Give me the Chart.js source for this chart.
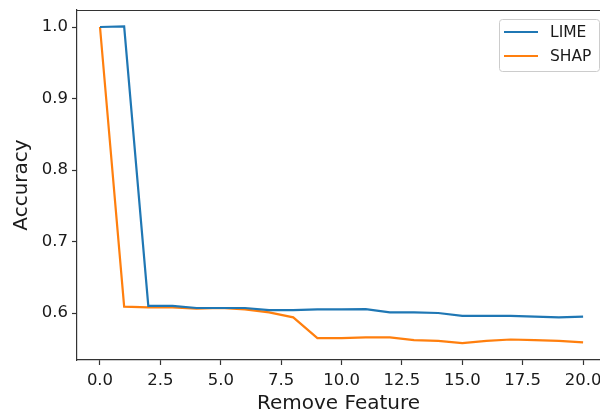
<!DOCTYPE html>
<html>
<head>
<meta charset="utf-8">
<title>Accuracy vs removed features</title>
<script src="https://cdn.jsdelivr.net/npm/chart.js@4.4.1/dist/chart.umd.min.js"></script>
<style>
  html, body { margin: 0; padding: 0; background: #fff; overflow: hidden; }
  #chart { display: block; }
</style>
</head>
<body>
<canvas id="chart" width="600" height="414"></canvas>
<script>
// number of removed features (x) and accuracy per method
const removed = [0, 1, 2, 3, 4, 5, 6, 7, 8, 9, 10, 11, 12, 13, 14, 15, 16, 17, 18, 19, 20];
const limeAcc = [1.0, 1.001, 0.610, 0.610, 0.607, 0.607, 0.607, 0.604, 0.604, 0.605, 0.605, 0.6055, 0.601, 0.601, 0.600, 0.596, 0.596, 0.596, 0.595, 0.594, 0.595];
const shapAcc = [1.0, 0.609, 0.608, 0.608, 0.606, 0.607, 0.605, 0.601, 0.594, 0.565, 0.565, 0.566, 0.566, 0.562, 0.561, 0.558, 0.561, 0.563, 0.562, 0.561, 0.559];

const xTicks = [0, 2.5, 5, 7.5, 10, 12.5, 15, 17.5, 20];
const yTicks = [0.6, 0.7, 0.8, 0.9, 1.0];

const FONT = "'DejaVu Sans', sans-serif";
const AXIS = '#333333';
const TEXT = '#1a1a1a';

const toPoints = ys => removed.map((x, i) => ({ x: x, y: ys[i] }));

// top spine (matplotlib-style frame; the right side runs off the canvas)
const topSpine = {
  id: 'topSpine',
  afterDraw(chart) {
    const { ctx, chartArea } = chart;
    ctx.save();
    ctx.strokeStyle = AXIS;
    ctx.lineWidth = 1.2;
    ctx.beginPath();
    ctx.moveTo(chartArea.left, chartArea.top + 0.5);
    ctx.lineTo(chartArea.right, chartArea.top + 0.5);
    ctx.stroke();
    ctx.restore();
  }
};

// boxed legend in the upper right corner
const boxLegend = {
  id: 'boxLegend',
  afterDraw(chart) {
    const { ctx } = chart;
    const x0 = 499, y0 = 19, w = 100, h = 52;
    ctx.save();
    ctx.fillStyle = 'rgba(255,255,255,0.9)';
    ctx.strokeStyle = '#cccccc';
    ctx.lineWidth = 1;
    ctx.beginPath();
    ctx.roundRect(x0 + 0.5, y0 + 0.5, w, h, 3);
    ctx.fill();
    ctx.stroke();
    ctx.font = '15.5px ' + FONT;
    ctx.textBaseline = 'middle';
    chart.data.datasets.forEach((ds, i) => {
      const y = y0 + 13 + i * 24;
      ctx.strokeStyle = ds.borderColor;
      ctx.lineWidth = 2;
      ctx.beginPath();
      ctx.moveTo(504, y);
      ctx.lineTo(538, y);
      ctx.stroke();
      ctx.fillStyle = TEXT;
      ctx.fillText(ds.label, 550, y + 1);
    });
    ctx.restore();
  }
};

new Chart(document.getElementById('chart'), {
  type: 'line',
  data: {
    datasets: [{
      label: 'LIME',
      data: toPoints(limeAcc),
      borderColor: '#1f77b4',
      borderWidth: 2.2,
      pointRadius: 0,
      tension: 0,
      fill: false
    }, {
      label: 'SHAP',
      data: toPoints(shapAcc),
      borderColor: '#ff7f0e',
      borderWidth: 2.2,
      pointRadius: 0,
      tension: 0,
      fill: false
    }]
  },
  options: {
    responsive: false,
    animation: false,
    layout: { padding: { top: 10, right: 0, left: 0, bottom: 0 } },
    plugins: {
      legend: { display: false },
      tooltip: { enabled: false }
    },
    scales: {
      x: {
        type: 'linear',
        min: -0.952,
        max: 20.70,
        afterBuildTicks: axis => { axis.ticks = xTicks.map(v => ({ value: v })); },
        afterFit: axis => {
          axis.height = 54;
          axis.paddingLeft = 0;
          axis.paddingRight = 0;
        },
        ticks: {
          color: TEXT,
          font: { family: FONT, size: 16.5 },
          padding: 6,
          maxRotation: 0,
          callback: v => v.toFixed(1)
        },
        grid: { drawOnChartArea: false, tickLength: 5, tickColor: AXIS, tickWidth: 1.2 },
        border: { display: true, color: AXIS, width: 1.2 },
        title: {
          display: true,
          text: 'Remove Feature',
          color: TEXT,
          font: { family: FONT, size: 20, lineHeight: 1.0 },
          padding: { top: 0, bottom: 0 }
        }
      },
      y: {
        type: 'linear',
        min: 0.5343,
        max: 1.0238,
        afterBuildTicks: axis => { axis.ticks = yTicks.map(v => ({ value: v })); },
        afterFit: axis => {
          axis.width = 77;
          axis.paddingTop = 0;
          axis.paddingBottom = 0;
        },
        ticks: {
          color: TEXT,
          font: { family: FONT, size: 16.5 },
          padding: 4,
          callback: v => v.toFixed(1)
        },
        grid: { drawOnChartArea: false, tickLength: 5, tickColor: AXIS, tickWidth: 1.2 },
        border: { display: true, color: AXIS, width: 1.2 },
        title: {
          display: true,
          text: 'Accuracy',
          color: TEXT,
          font: { family: FONT, size: 20 },
          padding: { top: 10, bottom: 0 }
        }
      }
    }
  },
  plugins: [topSpine, boxLegend]
});
</script>
</body>
</html>
